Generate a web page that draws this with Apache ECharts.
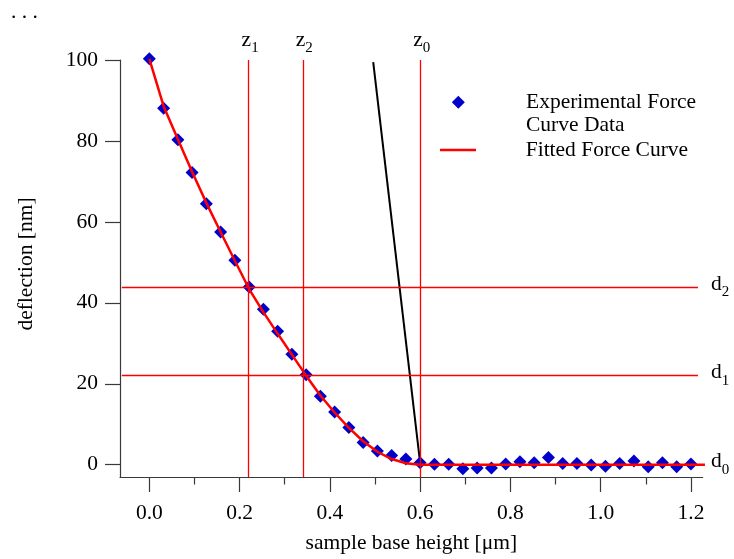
<!DOCTYPE html>
<html><head><meta charset="utf-8">
<script src="https://cdn.jsdelivr.net/npm/echarts@6/dist/echarts.min.js"></script>
<style>html,body{margin:0;padding:0;background:#fff}#c{width:734px;height:559px}</style>
</head><body><div id="c"></div>
<script>
// ---- data ----
const expX = [0, 0.0316, 0.0632, 0.0947, 0.1263, 0.1579, 0.1895, 0.2211, 0.2526, 0.2842, 0.3158, 0.3474, 0.3789, 0.4105, 0.4421, 0.4737, 0.5053, 0.5368, 0.5684, 0.6, 0.6316, 0.6632, 0.6947, 0.7263, 0.7579, 0.7895, 0.8211, 0.8526, 0.8842, 0.9158, 0.9474, 0.9789, 1.0105, 1.0421, 1.0737, 1.1053, 1.1368, 1.1684, 1.2];
const expY = [100.3, 88.1, 80.3, 72.2, 64.5, 57.5, 50.5, 43.9, 38.4, 33.0, 27.3, 22.2, 16.9, 13.0, 9.2, 5.5, 3.4, 2.3, 1.4, 0.5, 0.1, 0.1, -1.0, -0.8, -0.8, 0.2, 0.7, 0.5, 1.8, 0.3, 0.3, -0.1, -0.4, 0.3, 0.9, -0.5, 0.5, -0.5, 0.2];
const fitX = [0, 0.0316, 0.0632, 0.0947, 0.1263, 0.1579, 0.1895, 0.2211, 0.2526, 0.2842, 0.3158, 0.3474, 0.3789, 0.4105, 0.4421, 0.4737, 0.5053, 0.5368, 0.5684, 0.6, 1.231];
const fitY = [100.3, 88.6, 80.4, 72.4, 64.7, 57.5, 50.4, 43.4, 37.7, 32.4, 27.2, 22.0, 17.1, 12.9, 9.1, 5.8, 3.2, 1.4, 0.35, 0, 0];
const tangentX = [0.496, 0.600];
const tangentY = [99.5, 0.4];
const zSubs = ['1', '2', '0'];
const zValues = [0.218, 0.343, 0.599];
const dSubs = ['2', '1', '0'];
const dValues = [43.8, 22.0, 0];
const dLineStart = -0.061, dLineEnd = 1.2155;
const xTickValues = [0, 0.2, 0.4, 0.6, 0.8, 1.0, 1.2];
const xMinorTickValues = [0.1, 0.3, 0.5, 0.7, 0.9, 1.1];
const yTickValues = [0, 20, 40, 60, 80, 100];
const xMin = -0.065, xMax = 1.226, yMin = -3.04, yMax = 100;
const seriesNames = ['Experimental Force Curve Data', 'Fitted Force Curve'];

// ---- styles ----
const FONT = "'Liberation Serif','Times New Roman',serif";
const FS = 21.5;
const AX = '#3a3a3a';
const RED = '#ff0000';
const REFLINE = { color: RED, width: 1.3, type: 'solid', opacity: 1 };
const rich = {
  a: { fontFamily: FONT, fontSize: FS, color: '#000' },
  b: { fontFamily: FONT, fontSize: 15, color: '#000', padding: [16, 0, 0, 0] }
};

const chart = echarts.init(document.getElementById('c'), null, { renderer: 'canvas' });

const markData = [];
zValues.forEach((v, i) => {
  markData.push({
    xAxis: v,
    lineStyle: REFLINE,
    label: { show: true, position: 'end', distance: 4, color: '#000', formatter: '{a|z}{b|' + zSubs[i] + '}', rich: rich, padding: [0, 0, 0, 3] }
  });
});
dValues.forEach((v, i) => {
  markData.push([
    {
      coord: [dLineStart, v],
      lineStyle: Object.assign({}, REFLINE, i === 2 ? { color: 'rgba(255,0,0,0)' } : {}),
      label: { show: true, position: 'end', distance: 13, color: '#000', formatter: '{a|d}{b|' + dSubs[i] + '}', rich: rich, padding: [0, 0, 6, 0] }
    },
    { coord: [dLineEnd, v] }
  ]);
});

const option = {
  animation: false,
  backgroundColor: '#fff',
  textStyle: { fontFamily: FONT },
  grid: { left: 120, right: 31.3, top: 60, bottom: 82, containLabel: false },
  graphic: [{
    type: 'text', left: 11, top: 1,
    style: { text: '. . .', font: FS + 'px ' + FONT, fill: '#000' }
  }],
  legend: [
    {
      data: [{ name: seriesNames[0], icon: 'diamond' }], left: 451.8, top: 67.35, padding: 0, orient: 'vertical',
      itemWidth: 13, itemHeight: 13, selectedMode: false,
      formatter: () => '\nExperimental Force\nCurve Data',
      textStyle: { fontFamily: FONT, fontSize: FS, color: '#000', lineHeight: 23.3, padding: [0, 0, 0, 56.2] }
    },
    {
      data: [{ name: seriesNames[1], icon: 'rect' }], left: 440, top: 138.35, padding: 0, orient: 'vertical',
      itemWidth: 36, itemHeight: 2.5, selectedMode: false,
      textStyle: { fontFamily: FONT, fontSize: FS, color: '#000', lineHeight: 23.3, padding: [0, 0, 0, 44.7] }
    }
  ],
  xAxis: [
    {
      type: 'value', min: xMin, max: xMax, position: 'bottom',
      name: 'sample base height [μm]', nameLocation: 'middle', nameGap: 55,
      nameTextStyle: { fontFamily: FONT, fontSize: FS, color: '#000' },
      axisLine: { show: true, onZero: false, lineStyle: { color: AX, width: 1.2 } },
      axisTick: { show: true, length: 15, customValues: xTickValues, lineStyle: { color: AX, width: 1.2 } },
      axisLabel: { customValues: xTickValues, formatter: v => v.toFixed(1), margin: 25, fontFamily: FONT, fontSize: FS, color: '#000' },
      splitLine: { show: false }
    },
    {
      type: 'value', min: xMin, max: xMax, position: 'bottom',
      axisLine: { show: false, onZero: false },
      axisTick: { show: true, length: 7.5, customValues: xMinorTickValues, lineStyle: { color: AX, width: 1.2 } },
      axisLabel: { show: false },
      splitLine: { show: false }
    }
  ],
  yAxis: {
    type: 'value', min: yMin, max: yMax,
    name: 'deflection [nm]', nameLocation: 'middle', nameGap: 83,
    nameTextStyle: { fontFamily: FONT, fontSize: FS, color: '#000', padding: [0, 0, 0, 9] },
    axisLine: { show: true, onZero: false, lineStyle: { color: AX, width: 1.2 } },
    axisTick: { show: true, length: 15, customValues: yTickValues, lineStyle: { color: AX, width: 1.2 } },
    axisLabel: { customValues: yTickValues, margin: 22, fontFamily: FONT, fontSize: FS, color: '#000' },
    splitLine: { show: false }
  },
  series: [
    {
      name: seriesNames[0], type: 'scatter', xAxisIndex: 0,
      data: expX.map((x, i) => [x, expY[i]]),
      symbol: 'diamond', symbolSize: 13, clip: false, z: 3,
      itemStyle: { color: '#0000cc', opacity: 1 }
    },
    {
      name: seriesNames[1], type: 'line', xAxisIndex: 0,
      data: fitX.map((x, i) => [x, fitY[i]]),
      symbol: 'none', showSymbol: false, smooth: false, clip: false, z: 4,
      lineStyle: { color: RED, width: 2.5 }, itemStyle: { color: RED }
    },
    {
      name: 'refs', type: 'line', xAxisIndex: 0, data: [], symbol: 'none', z: 1,
      color: RED,
      markLine: {
        silent: true, symbol: ['none', 'none'], animation: false,
        lineStyle: REFLINE,
        label: { color: '#000' },
        emphasis: { disabled: true },
        data: markData
      }
    },
    {
      name: 'tangent', type: 'line', xAxisIndex: 0,
      data: tangentX.map((x, i) => [x, tangentY[i]]),
      symbol: 'none', clip: false, z: 2,
      lineStyle: { color: '#000', width: 2 }
    }
  ]
};
chart.setOption(option);
</script>
</body></html>
